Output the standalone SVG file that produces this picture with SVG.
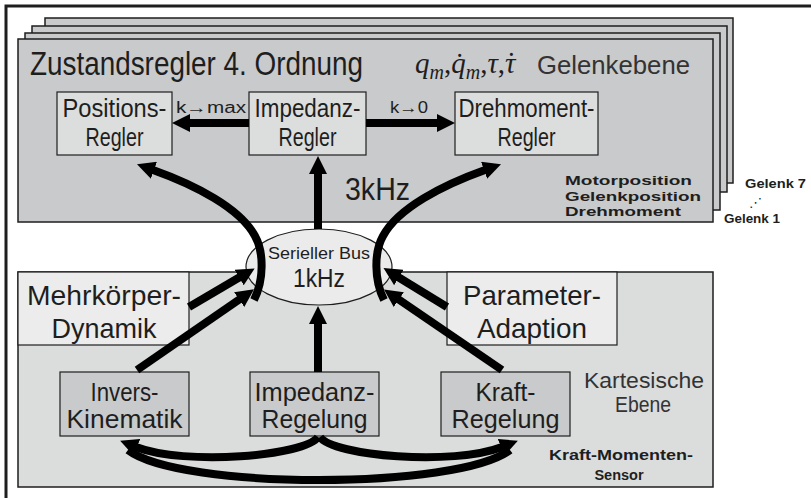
<svg xmlns="http://www.w3.org/2000/svg" width="811" height="498" viewBox="0 0 811 498">
  <defs>
    <style>
      .sans { font-family: "Liberation Sans", Arial, sans-serif; fill: #1e1e1e; }
      .grey { fill: #333; }
      .bold { font-weight: bold; }
      .math { font-family: "Liberation Serif", "Times New Roman", serif; font-style: italic; fill: #1e1e1e; }
      .panel { fill: #c9cacb; stroke: #1e1e1e; stroke-width: 1.5; }
      .box { fill: #dcdddd; stroke: #1e1e1e; stroke-width: 1.2; }
      .lowbox { fill: #c9cacb; stroke: #1e1e1e; stroke-width: 1.2; }
      .lightbox { fill: #ececec; stroke: #1e1e1e; stroke-width: 1.2; }
      .flow { fill: none; stroke: #000; stroke-width: 8; }
    </style>
    <marker id="ah" viewBox="0 0 18 18" markerWidth="18" markerHeight="18" refX="1" refY="9" orient="auto" markerUnits="userSpaceOnUse">
      <path d="M0,0 L18,9 L0,18 z" fill="#000"/>
    </marker>
  </defs>

  <rect x="0" y="0" width="811" height="498" fill="#fff"/>
  <!-- outer frame (top and left edges) -->
  <path d="M6,498 L6,6 L811,6" fill="none" stroke="#1e1e1e" stroke-width="3"/>

  <!-- joint level: stack of seven joint controllers -->
  <g id="joint-level">
    <rect class="panel" x="45" y="18" width="688" height="165"/>
    <rect class="panel" x="32" y="26" width="695" height="166"/>
    <rect class="panel" x="25" y="33" width="695" height="177"/>
    <rect class="panel" x="18" y="39" width="695" height="183"/>
    <text class="sans" x="30" y="75" font-size="33" textLength="333" lengthAdjust="spacingAndGlyphs">Zustandsregler 4. Ordnung</text>
    <text class="sans grey" x="537" y="74" font-size="25" textLength="153" lengthAdjust="spacingAndGlyphs">Gelenkebene</text>
    <text class="math" x="415" y="73" font-size="29">q<tspan font-size="20" dy="6">m</tspan><tspan font-style="normal" dy="-6">,</tspan>q̇<tspan font-size="20" dy="6">m</tspan><tspan font-style="normal" dy="-6">,</tspan>τ<tspan font-style="normal">,</tspan>τ<tspan font-style="normal" dx="-9">˙</tspan></text>
    <text class="sans" x="345" y="200" font-size="31" textLength="65" lengthAdjust="spacingAndGlyphs">3kHz</text>
    <text class="sans bold" x="565" y="185" font-size="13.5" textLength="127" lengthAdjust="spacingAndGlyphs">Motorposition</text>
    <text class="sans bold" x="565" y="200.5" font-size="13.5" textLength="136" lengthAdjust="spacingAndGlyphs">Gelenkposition</text>
    <text class="sans bold" x="565" y="216" font-size="13.5" textLength="116" lengthAdjust="spacingAndGlyphs">Drehmoment</text>
  </g>

  <g id="joint-labels">
    <text class="sans bold" x="745" y="188" font-size="12" textLength="61" lengthAdjust="spacingAndGlyphs">Gelenk 7</text>
    <text x="749" y="207" font-size="13" font-family="DejaVu Sans, sans-serif" fill="#1e1e1e">⋰</text>
    <text class="sans bold" x="724" y="223" font-size="12" textLength="56" lengthAdjust="spacingAndGlyphs">Gelenk 1</text>
  </g>

  <g id="positions-regler">
    <rect class="box" x="57" y="92" width="115" height="63"/>
    <text class="sans" x="114.5" y="117" font-size="25" text-anchor="middle" textLength="104" lengthAdjust="spacingAndGlyphs">Positions-</text>
    <text class="sans" x="114.5" y="146" font-size="25" text-anchor="middle" textLength="58" lengthAdjust="spacingAndGlyphs">Regler</text>
  </g>
  <g id="impedanz-regler">
    <rect class="box" x="249" y="92" width="117" height="63"/>
    <text class="sans" x="307.5" y="117" font-size="25" text-anchor="middle" textLength="106" lengthAdjust="spacingAndGlyphs">Impedanz-</text>
    <text class="sans" x="307.5" y="146" font-size="25" text-anchor="middle" textLength="58" lengthAdjust="spacingAndGlyphs">Regler</text>
  </g>
  <g id="drehmoment-regler">
    <rect class="box" x="455" y="92" width="143" height="63"/>
    <text class="sans" x="526.5" y="117" font-size="25" text-anchor="middle" textLength="136" lengthAdjust="spacingAndGlyphs">Drehmoment-</text>
    <text class="sans" x="526.5" y="146" font-size="25" text-anchor="middle" textLength="58" lengthAdjust="spacingAndGlyphs">Regler</text>
  </g>

  <!-- Cartesian level -->
  <g id="cartesian-level">
    <rect x="18" y="272" width="695" height="215" fill="#dbdcdc" stroke="#1e1e1e" stroke-width="1.5"/>
    <text class="sans grey" x="644" y="388" font-size="22" text-anchor="middle" textLength="120" lengthAdjust="spacingAndGlyphs">Kartesische</text>
    <text class="sans grey" x="643" y="412" font-size="22" text-anchor="middle" textLength="56" lengthAdjust="spacingAndGlyphs">Ebene</text>
    <text class="sans bold" x="621" y="460" font-size="14.5" text-anchor="middle" textLength="144" lengthAdjust="spacingAndGlyphs">Kraft-Momenten-</text>
    <text class="sans bold" x="619" y="480" font-size="14.5" text-anchor="middle">Sensor</text>
  </g>
  <g id="mehrkoerper-dynamik">
    <rect class="lightbox" x="18" y="272" width="171" height="73"/>
    <text class="sans" x="104" y="305" font-size="28" text-anchor="middle" textLength="154" lengthAdjust="spacingAndGlyphs">Mehrkörper-</text>
    <text class="sans" x="104" y="338" font-size="28" text-anchor="middle" textLength="105" lengthAdjust="spacingAndGlyphs">Dynamik</text>
  </g>
  <g id="parameter-adaption">
    <rect class="lightbox" x="447" y="272" width="170" height="73"/>
    <text class="sans" x="532" y="305" font-size="28" text-anchor="middle" textLength="138" lengthAdjust="spacingAndGlyphs">Parameter-</text>
    <text class="sans" x="532" y="338" font-size="28" text-anchor="middle" textLength="110" lengthAdjust="spacingAndGlyphs">Adaption</text>
  </g>
  <g id="invers-kinematik">
    <rect class="lowbox" x="60" y="372" width="129" height="64"/>
    <text class="sans" x="124.5" y="401" font-size="25" text-anchor="middle" textLength="68" lengthAdjust="spacingAndGlyphs">Invers-</text>
    <text class="sans" x="124.5" y="428" font-size="25" text-anchor="middle" textLength="116" lengthAdjust="spacingAndGlyphs">Kinematik</text>
  </g>
  <g id="impedanz-regelung">
    <rect class="lowbox" x="250" y="372" width="129" height="64"/>
    <text class="sans" x="314.5" y="401" font-size="25" text-anchor="middle" textLength="120" lengthAdjust="spacingAndGlyphs">Impedanz-</text>
    <text class="sans" x="314.5" y="428" font-size="25" text-anchor="middle" textLength="106" lengthAdjust="spacingAndGlyphs">Regelung</text>
  </g>
  <g id="kraft-regelung">
    <rect class="lowbox" x="441" y="372" width="129" height="64"/>
    <text class="sans" x="505.5" y="401" font-size="25" text-anchor="middle" textLength="60" lengthAdjust="spacingAndGlyphs">Kraft-</text>
    <text class="sans" x="505.5" y="428" font-size="25" text-anchor="middle" textLength="108" lengthAdjust="spacingAndGlyphs">Regelung</text>
  </g>

  <g id="serieller-bus">
    <ellipse cx="319" cy="267" rx="73" ry="38" fill="#ebebeb" stroke="#1e1e1e" stroke-width="1.2"/>
    <text class="sans" x="319" y="259" font-size="17" text-anchor="middle" textLength="102" lengthAdjust="spacingAndGlyphs">Serieller Bus</text>
    <text class="sans" x="319" y="287" font-size="26" text-anchor="middle" textLength="52" lengthAdjust="spacingAndGlyphs">1kHz</text>
  </g>

  <g id="connectors">
    <!-- impedance controller to position / torque controller -->
    <line class="flow" x1="249" y1="123" x2="189" y2="123" marker-end="url(#ah)"/>
    <line class="flow" x1="366" y1="123" x2="438" y2="123" marker-end="url(#ah)"/>
    <text class="sans" x="176" y="113" font-size="16" textLength="70" lengthAdjust="spacingAndGlyphs">k→max</text>
    <text class="sans" x="390" y="113" font-size="16" textLength="38" lengthAdjust="spacingAndGlyphs">k→0</text>
    <!-- bus to joint level -->
    <line class="flow" x1="318" y1="229" x2="318" y2="173" marker-end="url(#ah)"/>
    <line class="flow" x1="318" y1="372" x2="318" y2="323" marker-end="url(#ah)"/>
    <!-- side inputs into the bus -->
    <line class="flow" x1="189" y1="307" x2="240" y2="277" marker-end="url(#ah)"/>
    <line class="flow" x1="447" y1="307" x2="398" y2="277" marker-end="url(#ah)"/>
    <!-- Cartesian controllers into the bus -->
    <line class="flow" x1="137" y1="370" x2="240" y2="299" marker-end="url(#ah)"/>
    <line class="flow" x1="502" y1="370" x2="398" y2="299" marker-end="url(#ah)"/>
    <!-- bus to position / torque controller -->
    <path class="flow" d="M254,300 C264,280 264,252 255,236 C240,208 195,185 153,170" marker-end="url(#ah)"/>
    <path class="flow" d="M384,300 C374,280 374,252 383,236 C398,208 443,185 485,170" marker-end="url(#ah)"/>
    <!-- feedback loops between the Cartesian controllers -->
    <path class="flow" d="M318,437 C305,456 185,466 136,447" marker-end="url(#ah)"/>
    <path class="flow" d="M320,437 C333,456 453,466 502,447" marker-end="url(#ah)"/>
    <path class="flow" d="M128,450 C180,490 458,490 510,450"/>
  </g>
</svg>
